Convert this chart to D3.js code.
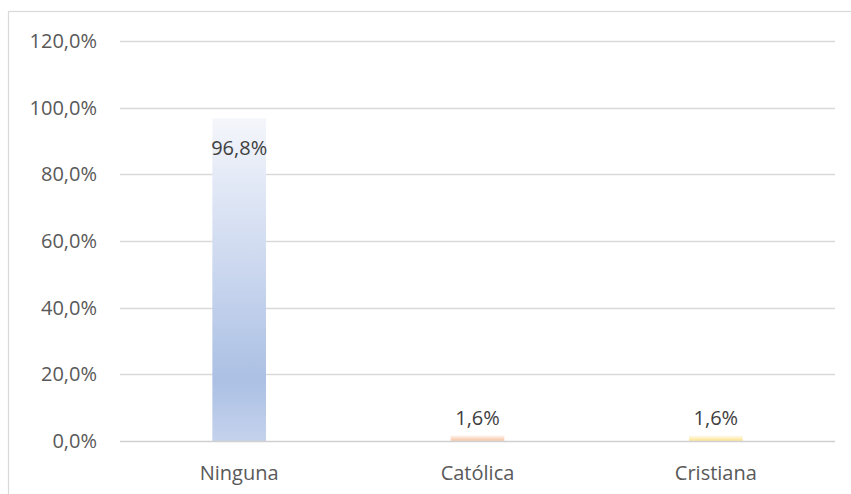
<!DOCTYPE html>
<html>
<head>
<meta charset="utf-8">
<script src="https://cdn.jsdelivr.net/npm/d3@7"></script>
<style>
  html, body { margin: 0; padding: 0; background: #ffffff; }
  svg { display: block; }
  text { font-family: "Open Sans", "Noto Sans", sans-serif; }
</style>
</head>
<body>
<script>
const categories = ["Ninguna", "Católica", "Cristiana"];
const values = [0.968, 0.016, 0.016];
const valueLabels = ["96,8%", "1,6%", "1,6%"];
const yTicks = [0, 0.2, 0.4, 0.6, 0.8, 1.0, 1.2];
const yTickLabels = ["0,0%", "20,0%", "40,0%", "60,0%", "80,0%", "100,0%", "120,0%"];
const gradientStops = [
  ["#f4f6fb", "#c8d5ee", "#abc0e4", "#c5d2ed"],
  ["#fdf1e9", "#fbdcc8", "#f8c9a9", "#fad6be"],
  ["#fffaea", "#fff0c2", "#ffe491", "#ffebb0"]
];

const W = 851, H = 494;
const margin = { left: 120, right: 16, top: 41, bottom: 53 };

const svg = d3.select("body").append("svg").attr("width", W).attr("height", H);

// chart border
svg.append("rect")
  .attr("x", 8.5).attr("y", 11.5)
  .attr("width", 860).attr("height", 500)
  .attr("fill", "#ffffff").attr("stroke", "#d9d9d9").attr("stroke-width", 1.2);

const x = d3.scaleBand().domain(categories).range([margin.left, W - margin.right]).paddingInner(0.775).paddingOuter(0.3875);
const y = d3.scaleLinear().domain([0, 1.2]).range([H - margin.bottom, margin.top]);

const defs = svg.append("defs");
categories.forEach((c, i) => {
  const g = defs.append("linearGradient").attr("id", "grad" + i)
    .attr("x1", 0).attr("y1", 0).attr("x2", 0).attr("y2", 1);
  const offs = [0, 0.5, 0.81, 1];
  gradientStops[i].forEach((col, k) => g.append("stop").attr("offset", offs[k]).attr("stop-color", col));
});

// gridlines
svg.append("g").selectAll("line").data(yTicks.slice(1)).join("line")
  .attr("x1", margin.left).attr("x2", W - margin.right)
  .attr("y1", d => Math.round(y(d)) + 0.5).attr("y2", d => Math.round(y(d)) + 0.5)
  .attr("stroke", "#d9d9d9").attr("stroke-width", 1.3);

// y tick labels
svg.append("g").selectAll("text").data(yTicks).join("text")
  .attr("x", 97).attr("y", d => y(d) + 7)
  .attr("text-anchor", "end")
  .attr("font-size", 20).attr("fill", "#595959")
  .text((d, i) => yTickLabels[i]);

// bars
svg.append("g").selectAll("rect").data(values).join("rect")
  .attr("x", (d, i) => x(categories[i]))
  .attr("width", x.bandwidth())
  .attr("y", d => y(d))
  .attr("height", d => y(0) - y(d))
  .attr("fill", (d, i) => `url(#grad${i})`);

// axis baseline
svg.append("line")
  .attr("x1", margin.left).attr("x2", W - margin.right)
  .attr("y1", Math.round(y(0)) + 0.5).attr("y2", Math.round(y(0)) + 0.5)
  .attr("stroke", "#d0d0d0").attr("stroke-width", 1.3);

// value labels
svg.append("g").selectAll("text").data(values).join("text")
  .attr("x", (d, i) => x(categories[i]) + x.bandwidth() / 2)
  .attr("y", d => d > 0.5 ? y(d) + 37 : y(d) - 11)
  .attr("text-anchor", "middle")
  .attr("font-size", 20).attr("fill", "#404040")
  .text((d, i) => valueLabels[i]);

// x labels
svg.append("g").selectAll("text").data(categories).join("text")
  .attr("x", d => x(d) + x.bandwidth() / 2)
  .attr("y", 480)
  .attr("text-anchor", "middle")
  .attr("font-size", 20).attr("fill", "#595959")
  .text(d => d);
</script>
</body>
</html>
